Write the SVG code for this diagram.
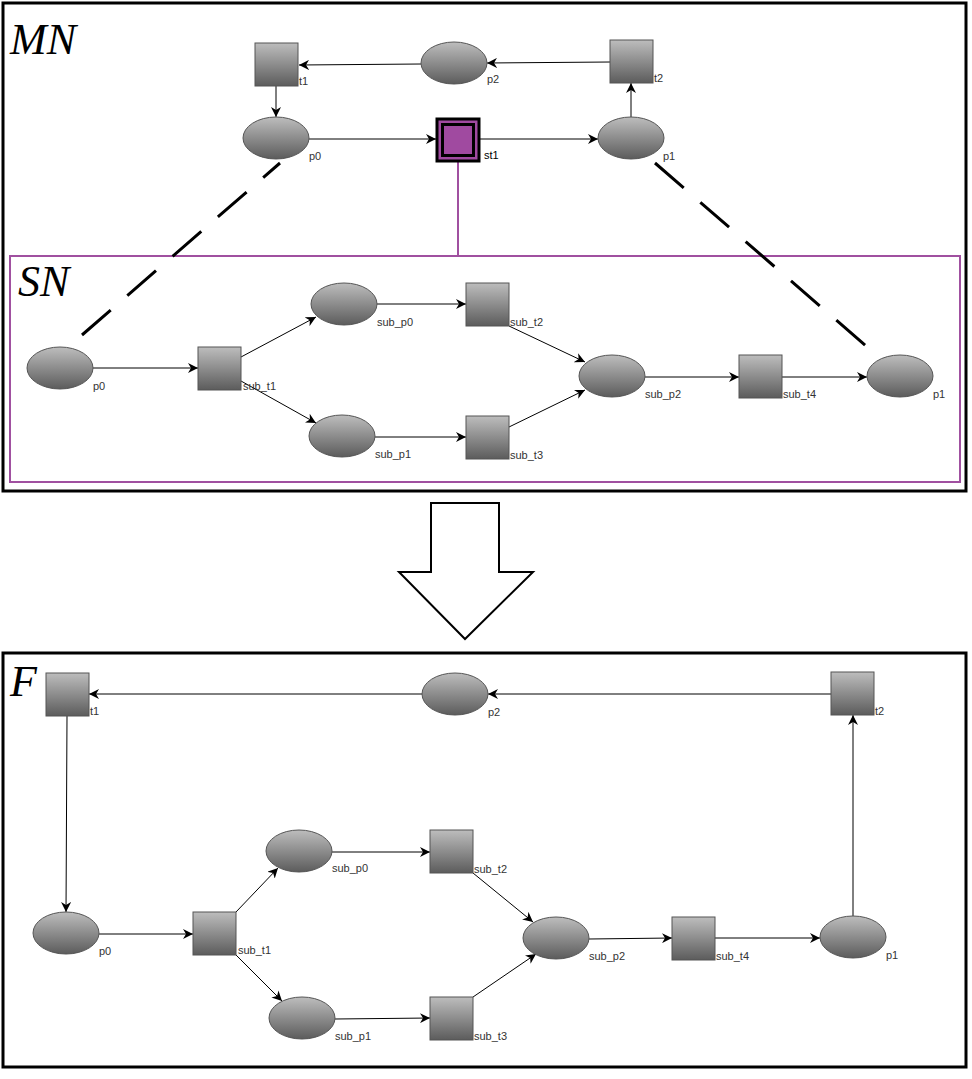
<svg xmlns="http://www.w3.org/2000/svg" width="972" height="1079" viewBox="0 0 972 1079">
<defs>
<linearGradient id="g" x1="0" y1="0" x2="0" y2="1"><stop offset="0" stop-color="#bdbdbd"/><stop offset="1" stop-color="#5c5c5c"/></linearGradient>
<marker id="a" viewBox="0 0 10 10" refX="10" refY="5" markerWidth="10" markerHeight="10" markerUnits="userSpaceOnUse" orient="auto"><path d="M0,0 L10,5 L0,10 L3,5 Z" fill="#000"/></marker>
<style>
.p{fill:url(#g);stroke:#555;stroke-width:1}
.t{fill:url(#g);stroke:#555;stroke-width:1}
.l{font-family:"Liberation Sans",Arial,sans-serif;font-size:11px;fill:#333}
.e{stroke:#000;stroke-width:1;fill:none;marker-end:url(#a)}
.big{font-family:"Liberation Serif",serif;font-style:italic;font-size:44px;fill:#000}
.d{stroke:#000;stroke-width:3;stroke-dasharray:38,22;fill:none}
</style>
</defs>
<rect width="972" height="1079" fill="#fff"/>
<rect x="3" y="3" width="963" height="488" fill="none" stroke="#000" stroke-width="3"/>
<text class="big" x="10" y="54">MN</text>
<rect x="10" y="256" width="950" height="226" fill="none" stroke="#a050a0" stroke-width="2"/>
<text class="big" x="18" y="296">SN</text>
<rect x="3" y="653" width="963" height="414" fill="none" stroke="#000" stroke-width="3"/>
<text class="big" x="10" y="696">F</text>
<path d="M431,503 H499 V572 H533 L465,639 L399,572 H431 Z" fill="#fff" stroke="#000" stroke-width="2"/>
<g id="connectors">
<line class="e" x1="421" y1="64" x2="299" y2="65"/>
<line class="e" x1="610" y1="62" x2="487" y2="63"/>
<line class="e" x1="276" y1="86" x2="276" y2="117"/>
<line class="e" x1="309" y1="139" x2="436" y2="139"/>
<line class="e" x1="479" y1="139" x2="598" y2="139"/>
<line class="e" x1="631" y1="117" x2="631" y2="83"/>
<line x1="458" y1="161" x2="458" y2="256" stroke="#a050a0" stroke-width="2"/>
<line class="d" x1="82" y1="335" x2="280" y2="163"/>
<line class="d" x1="655" y1="163" x2="873" y2="352"/>
<line class="e" x1="93" y1="368" x2="198" y2="368"/>
<line class="e" x1="241" y1="357" x2="316" y2="317"/>
<line class="e" x1="241" y1="381" x2="316" y2="423"/>
<line class="e" x1="377" y1="304" x2="466" y2="304"/>
<line class="e" x1="375" y1="437" x2="466" y2="437"/>
<line class="e" x1="509" y1="326" x2="585" y2="362"/>
<line class="e" x1="509" y1="427" x2="585" y2="390"/>
<line class="e" x1="645" y1="377" x2="739" y2="377"/>
<line class="e" x1="782" y1="377" x2="867" y2="377"/>
<line class="e" x1="422" y1="694" x2="89" y2="694"/>
<line class="e" x1="831" y1="694" x2="488" y2="694"/>
<line class="e" x1="67" y1="716" x2="66" y2="912"/>
<line class="e" x1="99" y1="934" x2="193" y2="934"/>
<line class="e" x1="236" y1="912" x2="278" y2="868"/>
<line class="e" x1="236" y1="955" x2="282" y2="1001"/>
<line class="e" x1="332" y1="852" x2="430" y2="852"/>
<line class="e" x1="335" y1="1019" x2="430" y2="1018"/>
<line class="e" x1="473" y1="873" x2="533" y2="922"/>
<line class="e" x1="473" y1="997" x2="536" y2="954"/>
<line class="e" x1="589" y1="939" x2="672" y2="938"/>
<line class="e" x1="715" y1="938" x2="820" y2="938"/>
<line class="e" x1="853" y1="916" x2="853" y2="715"/>
</g>
<g id="mn_t1"><rect class="t" x="255" y="43" width="43" height="43"/><text class="l" x="299" y="85">t1</text></g>
<g id="mn_p2"><ellipse class="p" cx="454" cy="63" rx="33" ry="21"/><text class="l" x="487" y="83">p2</text></g>
<g id="mn_t2"><rect class="t" x="610" y="40" width="43" height="43"/><text class="l" x="654" y="82">t2</text></g>
<g id="mn_p0"><ellipse class="p" cx="276" cy="138" rx="33" ry="21"/><text class="l" x="309" y="160">p0</text></g>
<g id="mn_st1"><rect x="437" y="119" width="42" height="42" fill="#a04aa0" stroke="#000" stroke-width="3"/><rect x="442.5" y="124.5" width="31" height="31" fill="#a04aa0" stroke="#000" stroke-width="3"/><text x="484" y="159" font-family="Liberation Sans,Arial,sans-serif" font-size="11" fill="#000">st1</text></g>
<g id="mn_p1"><ellipse class="p" cx="631" cy="138" rx="33" ry="21"/><text class="l" x="663" y="160">p1</text></g>
<g id="sn_p0"><ellipse class="p" cx="60" cy="368" rx="33" ry="21"/><text class="l" x="93" y="390">p0</text></g>
<g id="sn_sub_t1"><rect class="t" x="198" y="347" width="43" height="43"/><text class="l" x="243" y="390">sub_t1</text></g>
<g id="sn_sub_p0"><ellipse class="p" cx="344" cy="304" rx="33" ry="21"/><text class="l" x="377" y="326">sub_p0</text></g>
<g id="sn_sub_p1"><ellipse class="p" cx="342" cy="436" rx="33" ry="21"/><text class="l" x="375" y="458">sub_p1</text></g>
<g id="sn_sub_t2"><rect class="t" x="466" y="283" width="43" height="43"/><text class="l" x="510" y="326">sub_t2</text></g>
<g id="sn_sub_t3"><rect class="t" x="466" y="416" width="43" height="43"/><text class="l" x="510" y="459">sub_t3</text></g>
<g id="sn_sub_p2"><ellipse class="p" cx="612" cy="376" rx="33" ry="21"/><text class="l" x="645" y="398">sub_p2</text></g>
<g id="sn_sub_t4"><rect class="t" x="739" y="355" width="43" height="43"/><text class="l" x="783" y="398">sub_t4</text></g>
<g id="sn_p1"><ellipse class="p" cx="900" cy="376" rx="33" ry="21"/><text class="l" x="933" y="398">p1</text></g>
<g id="f_t1"><rect class="t" x="46" y="673" width="43" height="43"/><text class="l" x="90" y="715">t1</text></g>
<g id="f_p2"><ellipse class="p" cx="455" cy="694" rx="33" ry="21"/><text class="l" x="488" y="716">p2</text></g>
<g id="f_t2"><rect class="t" x="831" y="672" width="43" height="43"/><text class="l" x="875" y="715">t2</text></g>
<g id="f_p0"><ellipse class="p" cx="66" cy="933" rx="33" ry="21"/><text class="l" x="99" y="955">p0</text></g>
<g id="f_sub_t1"><rect class="t" x="193" y="912" width="43" height="43"/><text class="l" x="238" y="954">sub_t1</text></g>
<g id="f_sub_p0"><ellipse class="p" cx="299" cy="851" rx="33" ry="21"/><text class="l" x="332" y="872">sub_p0</text></g>
<g id="f_sub_p1"><ellipse class="p" cx="302" cy="1018" rx="33" ry="21"/><text class="l" x="335" y="1040">sub_p1</text></g>
<g id="f_sub_t2"><rect class="t" x="430" y="830" width="43" height="43"/><text class="l" x="474" y="873">sub_t2</text></g>
<g id="f_sub_t3"><rect class="t" x="430" y="997" width="43" height="43"/><text class="l" x="474" y="1040">sub_t3</text></g>
<g id="f_sub_p2"><ellipse class="p" cx="556" cy="938" rx="33" ry="21"/><text class="l" x="589" y="960">sub_p2</text></g>
<g id="f_sub_t4"><rect class="t" x="672" y="917" width="43" height="43"/><text class="l" x="716" y="960">sub_t4</text></g>
<g id="f_p1"><ellipse class="p" cx="853" cy="937" rx="33" ry="21"/><text class="l" x="886" y="959">p1</text></g>
</svg>
